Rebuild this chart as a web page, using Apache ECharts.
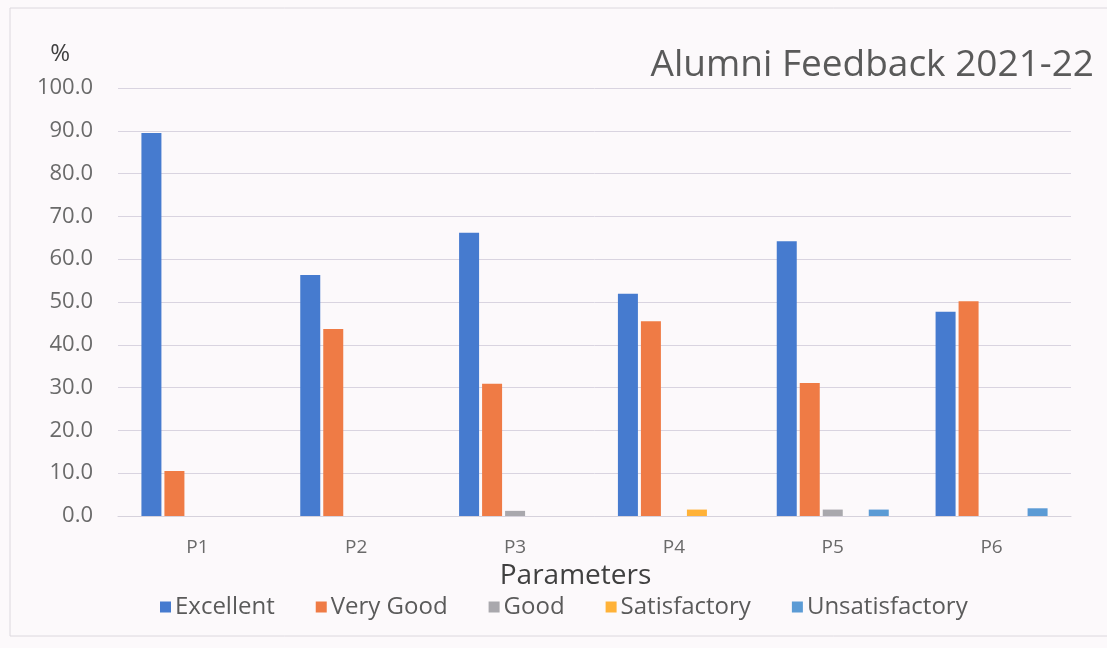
<!DOCTYPE html>
<html>
<head>
<meta charset="utf-8">
<script src="https://cdn.jsdelivr.net/npm/echarts@6/dist/echarts.min.js"></script>
<style>
html,body{margin:0;padding:0;background:#fcf9fb;}
#c{width:1107px;height:648px;}
</style>
</head>
<body>
<div id="c"></div>
<script>
const categories = ['P1','P2','P3','P4','P5','P6'];
const seriesNames = ['Excellent','Very Good','Good','Satisfactory','Unsatisfactory'];
const excellent = [89.5, 56.3, 66.2, 51.9, 64.2, 47.7];
const veryGood = [10.5, 43.7, 30.9, 45.5, 31.1, 50.2];
const good = [0, 0, 1.2, 0, 1.5, 0];
const satisfactory = [0, 0, 0, 1.5, 0, 0];
const unsatisfactory = [0, 0, 0, 0, 1.5, 1.8];
const colors = ['#467bcf','#ef7b45','#a9a8ad','#ffb238','#5b9bd5'];

const values = [excellent, veryGood, good, satisfactory, unsatisfactory];
const chart = echarts.init(document.getElementById('c'));
const font = '"Open Sans", Lato, sans-serif';
chart.setOption({
  backgroundColor: '#fcf9fb',
  animation: false,
  color: colors,
  title: {
    text: 'Alumni Feedback 2021-22',
    right: 8, top: 42,
    textStyle: {fontFamily: font, fontSize: 37, fontWeight: 'normal', color: '#5a5a5a'}
  },
  graphic: [{
    type: 'rect', shape: {x: 10, y: 8, width: 1120, height: 628},
    style: {fill: 'none', stroke: '#dcd8de', lineWidth: 1}, silent: true
  }],
  legend: {
    bottom: 24, left: 155,
    itemWidth: 11, itemHeight: 11, itemGap: 41, icon: 'rect',
    textStyle: {fontFamily: font, fontSize: 24, color: '#5a5a5a', padding: [0,0,0,-1]},
    data: seriesNames
  },
  grid: {left: 118, right: 36, top: 88, bottom: 132},
  xAxis: {
    type: 'category', data: categories,
    name: 'Parameters', nameLocation: 'middle', nameGap: 36,
    nameTextStyle: {fontFamily: font, fontSize: 28, color: '#404040', padding: [0, 38, 0, 0]},
    axisLine: {show: true, lineStyle: {color: '#d6d2dc'}},
    axisTick: {show: false},
    axisLabel: {fontFamily: font, fontSize: 19, color: '#6a6a6a', margin: 22}
  },
  yAxis: {
    type: 'value', min: 0, max: 100, interval: 10,
    name: '%', nameLocation: 'end', nameGap: 22,
    nameTextStyle: {fontFamily: font, fontSize: 24, color: '#404040', align: 'right', padding: [0, 48, 0, 0]},
    axisLine: {show: false}, axisTick: {show: false},
    axisLabel: {fontFamily: font, fontSize: 22, color: '#6a6a6a', margin: 25, formatter: v => v.toFixed(1)},
    splitLine: {lineStyle: {color: '#d9d4e0', width: 1}}
  },
  series: seriesNames.map((n, i) => ({
    name: n, type: 'bar', data: values[i],
    barWidth: 20, barGap: '15%'
  }))
});
</script>
</body>
</html>
